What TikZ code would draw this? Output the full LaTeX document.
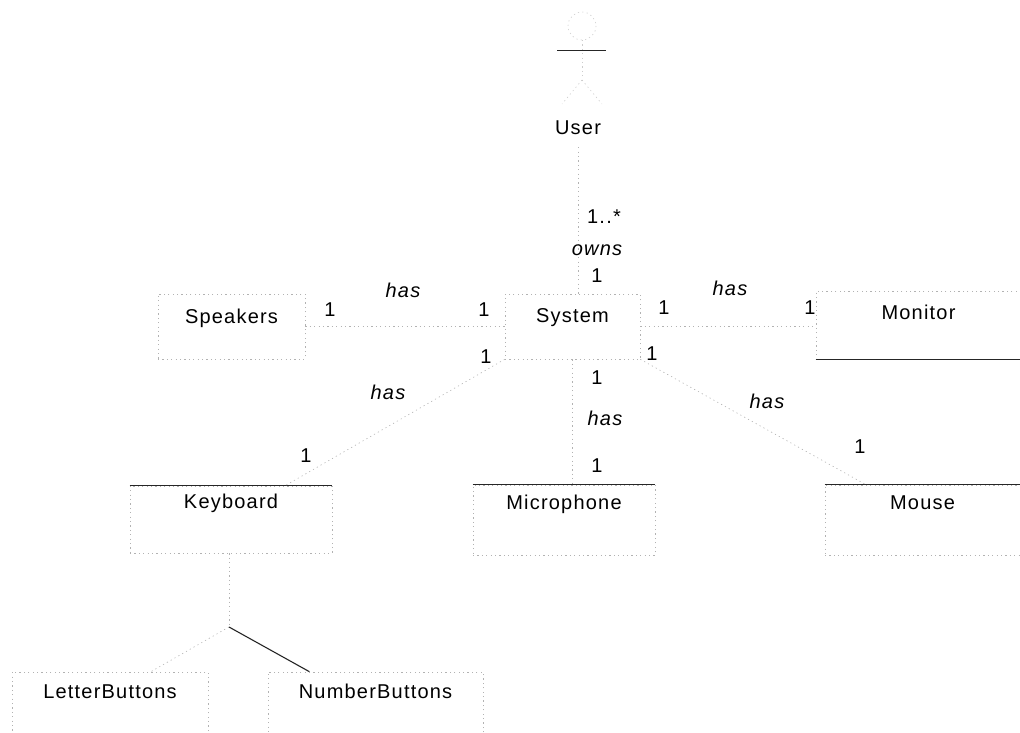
\documentclass[tikz,border=0pt]{standalone}
\usepackage{fontspec}
\setmainfont{Liberation Sans}[LetterSpace=6]
\usetikzlibrary{calc}

\begin{document}
\begin{tikzpicture}[x=1pt,y=-1pt,
  faint/.style={draw=black!30, line width=0.6pt, dash pattern=on 1.2pt off 3.2pt},
  ink/.style={draw=black!85, line width=1.1pt},
  cls/.style={faint, rectangle, inner sep=0pt, anchor=base,
    font=\fontsize{20}{24}\selectfont},
  mult/.style={inner sep=0pt, font=\fontsize{20}{24}\selectfont},
  role/.style={inner sep=0pt, font=\fontsize{20}{24}\selectfont\itshape},
]
\useasboundingbox (0,0) rectangle (1020,733);

% actor
\draw[faint, draw=black!20] (582,26) circle (14);
\draw[faint, draw=black!20] (582,40) -- (582,80);
\draw[faint, draw=black!20] (582,80) -- (562,104) (582,80) -- (602,104);
\draw[ink, line width=0.9pt] (557,50) -- (606,50);
\node[mult] (user) at (578,128) {User};

% classes
\node[cls, minimum width=147pt, text height=29pt, text depth=36pt] (spk) at (231.5,323) {Speakers};
\node[cls, minimum width=135pt, text height=28pt, text depth=37pt] (sys) at (572.5,322) {System};
\node[cls, minimum width=205pt, text height=28pt, text depth=40pt] (mon) at (918.5,319) {Monitor};
\node[cls, minimum width=202pt, text height=22pt, text depth=45pt] (kbd) at (231,508) {Keyboard};
\node[cls, minimum width=182pt, text height=24pt, text depth=46pt] (mic) at (564,509) {Microphone};
\node[cls, minimum width=195pt, text height=24pt, text depth=46pt] (mouse) at (922.5,509) {Mouse};
\node[cls, minimum width=196pt, text height=26pt, text depth=35pt] (lb) at (110,698) {LetterButtons};
\node[cls, minimum width=215pt, text height=26pt, text depth=35pt] (nb) at (375.5,698) {NumberButtons};

% edges that print solid
\draw[ink] (mon.south west) -- (mon.south east);
\draw[ink] (kbd.north west) -- (kbd.north east);
\draw[ink] (mic.north west) -- (mic.north east);
\draw[ink] (mouse.north west) -- (mouse.north east);

% associations
\draw[faint, shorten <=12pt] (user.south) -- (user.south |- sys.north);
\draw[faint] (spk.east) -- (sys.west);
\draw[faint] (sys.east) -- (sys.east -| mon.west);
\draw[faint] (sys.south west) -- (kbd.32.3);
\draw[faint] (sys.south) -- (sys.south |- mic.north);
\draw[faint] (sys.south east) -- (mouse.148.7);

% keyboard parts
\coordinate (kfork) at (229,627);
\draw[faint] (kfork |- kbd.south) -- (kfork);
\draw[ink] (kfork) -- (nb.155.7);
\draw[faint] (kfork) -- (lb.37.3);

% multiplicities and role names
\node[mult] (mUsr)  at (604,217) {1..*};
\node[role] (rOwn)  at (597,250) {owns};
\node[mult] (mSysU) at (597,276) {1};
\node[role] (rSpk)  at (403,290) {has};
\node[mult] (mSpk)  at (330,310) {1};
\node[mult] (mSysS) at (484,310) {1};
\node[role] (rMon)  at (730,288) {has};
\node[mult] (mSysM) at (664,308) {1};
\node[mult] (mMon)  at (810,308) {1};
\node[mult] (mSysK) at (486,357) {1};
\node[mult] (mSysO) at (652,354) {1};
\node[mult] (mSysC) at (597,378) {1};
\node[role] (rKbd)  at (388,392) {has};
\node[mult] (mKbd)  at (306,456) {1};
\node[role] (rMic)  at (605,418) {has};
\node[mult] (mMic)  at (597,466) {1};
\node[role] (rMou)  at (767,401) {has};
\node[mult] (mMou)  at (860,447) {1};
\end{tikzpicture}
\end{document}
